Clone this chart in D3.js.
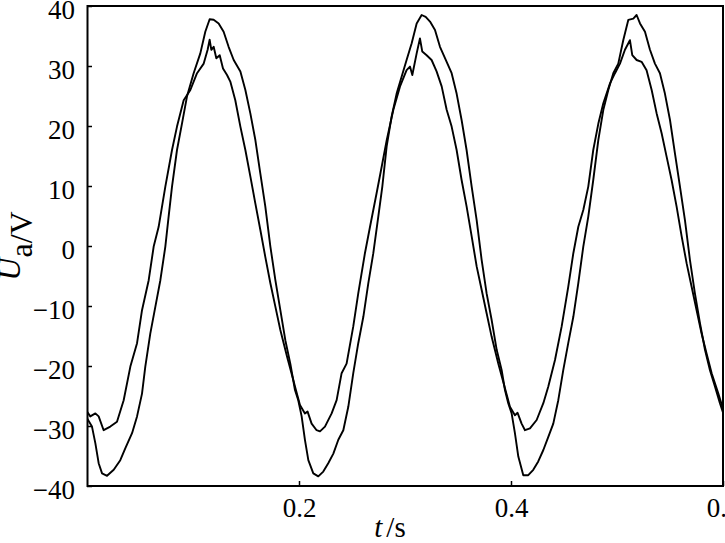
<!DOCTYPE html>
<html><head><meta charset="utf-8">
<script src="https://cdn.jsdelivr.net/npm/d3@7"></script>
<style>body{margin:0;background:#fff}svg{display:block}</style>
</head><body>
<svg id="c" width="725" height="543"></svg>
<script>
// Inner curve (smaller amplitude), time (s) and voltage (V)
const innerT = [0,0.0031,0.0079,0.0110,0.0157,0.0220,0.0283,0.0346,0.0409,0.0472,0.0519,0.0582,0.0629,0.0676,0.0739,0.0802,0.0849,0.0912,0.0975,0.1038,0.1101,0.1138,0.1157,0.1173,0.1195,0.1220,0.1252,0.1283,0.1321,0.1352,0.1399,0.1447,0.1494,0.1541,0.1588,0.1635,0.1682,0.1730,0.1777,0.1824,0.1887,0.1950,
0.1962,0.2009,0.2056,0.2081,0.2119,0.2166,0.2198,0.2245,0.2308,0.2355,0.2402,0.2449,0.2512,0.2559,0.2622,0.2670,0.2732,0.2780,0.2827,0.2890,0.2953,0.3015,0.3047,0.3069,0.3110,0.3141,0.3163,0.3204,0.3251,0.3298,0.3346,0.3393,0.3440,0.3487,0.3534,0.3581,0.3629,0.3676,0.3723,0.3770,0.3817,0.3880,
0.3943,0.3990,0.4037,0.4062,0.4100,0.4132,0.4179,0.4242,0.4305,0.4352,0.4415,0.4478,0.4540,0.4588,0.4635,0.4682,0.4729,0.4776,0.4824,0.4871,0.4934,0.4981,0.5028,0.5075,0.5122,0.5144,0.5185,0.5232,0.5279,0.5327,0.5374,0.5421,0.5468,0.5515,0.5562,0.5610,0.5657,0.5704,0.5751,0.5798,0.5845,0.5893,0.5956,0.6003];
const innerV = [-27.6,-28.4,-27.9,-28.4,-30.7,-30.1,-29.3,-25.7,-20.1,-16.2,-10.7,-5.7,-0.1,3.2,9.9,16.0,19.9,24.3,26.0,28.8,30.4,32.7,34.4,32.7,33.2,31.3,31.8,29.6,28.5,27.4,24.3,19.9,16.0,11.6,7.1,2.7,-1.8,-6.2,-10.1,-14.0,-18.4,-22.6,
-23.4,-26.5,-27.9,-27.6,-29.6,-30.7,-30.9,-30.1,-27.9,-25.7,-21.2,-19.6,-13.4,-7.9,-1.2,3.2,8.8,13.2,17.6,22.7,26.6,29.3,29.9,28.5,32.1,34.6,32.4,31.8,31.0,29.1,26.6,22.7,19.9,16.0,11.0,6.6,1.6,-3.4,-7.3,-11.2,-15.1,-19.6,
-23.7,-26.8,-28.2,-27.8,-29.6,-30.7,-30.4,-29.0,-26.2,-23.4,-19.0,-13.4,-6.8,-1.2,3.2,6.0,9.9,16.0,20.4,23.8,27.1,28.8,30.4,32.7,34.3,31.8,31.0,30.7,29.3,26.0,22.1,18.8,14.9,11.0,6.6,1.6,-2.9,-6.8,-10.7,-14.6,-17.9,-21.2,-24.6,-27.3];

// Outer curve (larger amplitude)
const outerT = [0,0.0047,0.0079,0.0110,0.0142,0.0189,0.0252,0.0314,0.0362,0.0425,0.0472,0.0519,0.0550,0.0597,0.0645,0.0692,0.0739,0.0770,0.0802,0.0849,0.0896,0.0943,0.1006,0.1069,0.1116,0.1157,0.1195,0.1242,0.1289,0.1336,0.1384,0.1447,0.1494,0.1541,0.1588,0.1635,0.1682,0.1730,0.1777,0.1824,0.1871,0.1918,
0.1962,0.1993,0.2025,0.2056,0.2088,0.2135,0.2182,0.2229,0.2276,0.2324,0.2371,0.2418,0.2465,0.2512,0.2559,0.2607,0.2654,0.2701,0.2748,0.2786,0.2827,0.2874,0.2921,0.2968,0.3015,0.3063,0.3110,0.3157,0.3195,0.3236,0.3283,0.3330,0.3393,0.3440,0.3487,0.3534,0.3581,0.3629,0.3676,0.3723,0.3770,0.3817,0.3865,0.3912,
0.3943,0.3974,0.4006,0.4037,0.4069,0.4116,0.4163,0.4210,0.4257,0.4305,0.4352,0.4399,0.4446,0.4493,0.4540,0.4588,0.4635,0.4682,0.4729,0.4776,0.4824,0.4871,0.4918,0.4965,0.5012,0.5059,0.5107,0.5154,0.5185,0.5217,0.5264,0.5311,0.5358,0.5405,0.5452,0.5500,0.5547,0.5594,0.5641,0.5688,0.5735,0.5783,0.5830,0.5877,0.5924,0.5971,0.6003];
const outerV = [-28.7,-30.1,-32.9,-36.2,-37.9,-38.3,-37.3,-35.7,-33.7,-31.2,-28.4,-24.6,-20.1,-14.6,-10.1,-5.7,-0.1,4.9,9.9,16.0,20.4,24.9,28.8,32.1,35.7,37.8,37.7,37.1,35.7,33.2,31.0,29.1,26.0,22.1,17.7,12.1,6.6,-0.1,-5.7,-10.7,-15.7,-19.6,
-24.0,-25.7,-28.4,-32.3,-35.7,-37.9,-38.4,-37.6,-36.2,-34.6,-32.3,-30.7,-26.8,-21.2,-16.2,-11.8,-6.2,-1.2,4.9,9.9,16.6,21.6,25.4,28.2,31.0,33.8,37.1,38.5,38.2,37.4,36.0,33.2,30.7,28.8,25.4,21.0,16.0,9.9,4.3,-2.3,-7.9,-12.3,-17.3,-20.7,
-24.0,-26.2,-27.9,-31.2,-35.1,-38.2,-38.2,-37.3,-35.9,-34.0,-31.8,-29.6,-25.7,-20.7,-16.2,-11.8,-6.2,-0.1,4.9,11.0,17.7,22.7,26.0,28.8,30.4,34.3,37.7,37.9,38.5,37.1,35.7,32.7,30.4,28.8,25.4,21.0,15.4,9.9,4.3,-2.3,-7.9,-12.9,-17.3,-20.7,-23.4,-26.2,-27.9];

const yTicks = [-40,-30,-20,-10,0,10,20,30,40];
const xTicks = [0.2,0.4,0.6];
const xTickLabels = ["0.2","0.4","0.6"];

const svg = d3.select("#c");
const L = 87, R = 723, T = 6, B = 486;
const FONT = "Liberation Serif";
const x = d3.scaleLinear().domain([0,0.6]).range([L,R]);
const y = d3.scaleLinear().domain([-40,40]).range([B,T]);

svg.append("defs").append("clipPath").attr("id","pc")
  .append("rect").attr("x",L).attr("y",T).attr("width",R-L).attr("height",B-T);

const line = d3.line().x(d=>x(d[0])).y(d=>y(d[1]));
const series = [d3.zip(innerT, innerV), d3.zip(outerT, outerV)];
svg.append("g").attr("clip-path","url(#pc)").selectAll("path").data(series).join("path")
  .attr("d", line).attr("fill","none").attr("stroke","#000").attr("stroke-width",1.9)
  .attr("stroke-linejoin","round");

// y axis
const ya = svg.append("g").attr("transform",`translate(${L},0)`)
  .call(d3.axisLeft(y).tickValues(yTicks).tickSize(-5).tickPadding(12));
ya.select(".domain").remove();
ya.selectAll("line").attr("stroke","#000").attr("stroke-width",1.5);
ya.selectAll("text").style("font-family",FONT).style("font-size","27px").attr("fill","#000").attr("dy","0.45em");

// x axis
const xa = svg.append("g").attr("transform",`translate(0,${B})`)
  .call(d3.axisBottom(x).tickValues(xTicks).tickSize(-5).tickPadding(12).tickFormat((d,i)=>xTickLabels[i]));
xa.select(".domain").remove();
xa.selectAll("line").attr("stroke","#000").attr("stroke-width",1.5);
xa.selectAll("text").style("font-family",FONT).style("font-size","27px").attr("fill","#000");

// frame
svg.append("rect").attr("x",L+0.5).attr("y",T).attr("width",R-L-0.5).attr("height",B-T)
  .attr("fill","none").attr("stroke","#000").attr("stroke-width",2);

// x label
const xl = svg.append("text").attr("x",390).attr("y",537).attr("text-anchor","middle")
  .style("font-family",FONT).style("font-size","29px").attr("fill","#000");
xl.append("tspan").style("font-style","italic").text("t");
xl.append("tspan").attr("dx",4).text("/s");

// y label
const yl = svg.append("text").attr("transform","translate(32,246) rotate(-90)")
  .attr("y",-12).attr("text-anchor","middle")
  .style("font-family",FONT).style("font-size","32px").attr("fill","#000");
yl.append("tspan").style("font-style","italic").text("U");
yl.append("tspan").attr("dy",12).text("a/V");
</script>
</body></html>
